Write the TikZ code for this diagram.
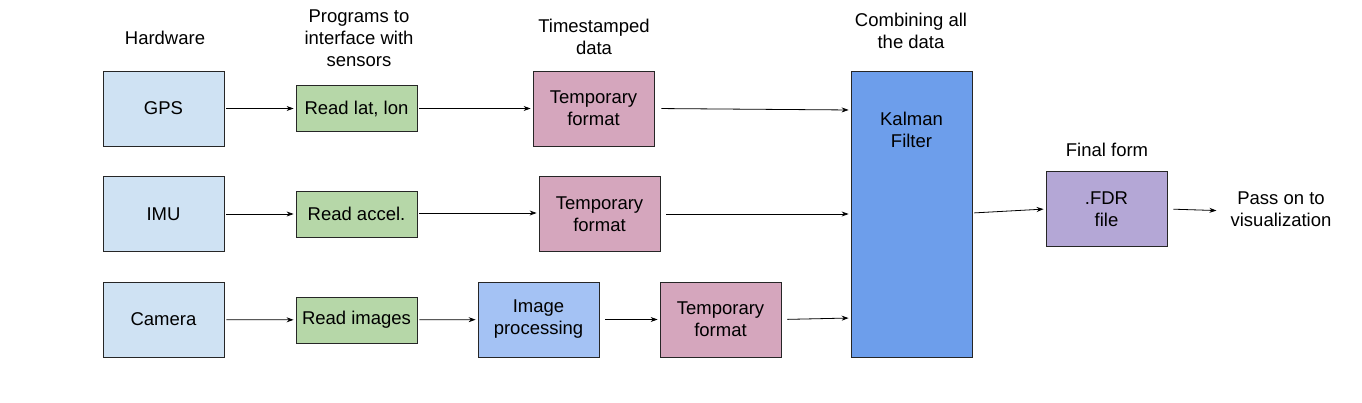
\documentclass[tikz,border=0pt]{standalone}
\usepackage{fontspec}
\setmainfont{Liberation Sans}
\usetikzlibrary{arrows.meta}

\definecolor{hwblue}{HTML}{CFE2F3}
\definecolor{progreen}{HTML}{B6D7A8}
\definecolor{tmppink}{HTML}{D5A6BD}
\definecolor{imgblue}{HTML}{A4C2F4}
\definecolor{kalblue}{HTML}{6D9EEB}
\definecolor{fdrpurple}{HTML}{B4A7D6}

\begin{document}
\begin{tikzpicture}[x=1pt, y=-1pt, font=\fontsize{18.5}{22}\selectfont,
	box/.style={draw=black!85, line width=0.8pt, minimum width=121pt, minimum height=75pt, align=center, inner sep=0pt},
	prog/.style={box, minimum height=46pt, fill=progreen},
	lbl/.style={align=center, inner sep=0pt},
	a/.style={-{Stealth[length=7pt, width=5pt]}, line width=0.8pt, shorten <=2pt, shorten >=2pt}]
	\useasboundingbox (0,0) rectangle (1362,403);

	\node[lbl] (lhw) at (165,38) {Hardware};
	\node[lbl] (lprog) at (359,38) {Programs to\\interface with\\sensors};
	\node[lbl] (lts) at (594,37) {Timestamped\\data};
	\node[lbl] (lcomb) at (911,31) {Combining all\\the data};
	\node[lbl] (lfinal) at (1107,150) {Final form};

	\node[box, fill=hwblue] (gps) at (163.5,108.5) {GPS};
	\node[box, fill=hwblue] (imu) at (163.5,214) {IMU};
	\node[box, fill=hwblue] (cam) at (163.5,319.5) {Camera};

	\node[prog] (rgps) at (356.5,108.5) {Read lat, lon};
	\node[prog] (rimu) at (356.5,214) {Read accel.};
	\node[prog] (rcam) at (356.5,320) {Read images};

	\node[box, fill=tmppink] (t1) at (593.5,108.5) {Temporary\\format};
	\node[box, fill=tmppink] (t2) at (599.5,214) {Temporary\\format};
	\node[box, fill=imgblue] (img) at (538.5,319.5) {Image\\processing};
	\node[box, fill=tmppink] (t3) at (720.5,319.5) {Temporary\\format};

	\node[box, fill=kalblue, minimum height=286pt] (kal) at (911.5,214) {};
	\node[lbl] (kaltxt) at (911.5,130) {Kalman\\Filter};

	\node[box, fill=fdrpurple] (fdr) at (1106.5,209) {.FDR\\file};
	\node[lbl] (pass) at (1281,209) {Pass on to\\visualization};

	\path[a] (gps) edge (rgps);
	\path[a] (imu) edge (rimu);
	\path[a] (cam) edge (rcam);
	\path[a] (rgps) edge (t1);
	\path[a] ([yshift=1pt]rimu.east) edge ([yshift=1pt]t2.west);
	\path[a] (rcam) edge (img);
	\path[a, shorten <=6pt] (img) edge (t3);
	\path[a, shorten <=7pt] (t1.east) edge ([yshift=104pt]kal.west);
	\path[a, shorten <=6pt] (t2.east) edge (kal.west);
	\path[a, shorten <=6pt] (t3.east) edge ([yshift=-104pt]kal.west);
	\path[a] ([yshift=1pt]kal.east) edge (fdr.west);
	\path[a, shorten <=6pt, shorten >=14pt] (fdr.east) edge ([yshift=-2pt]pass.west);
\end{tikzpicture}
\end{document}
